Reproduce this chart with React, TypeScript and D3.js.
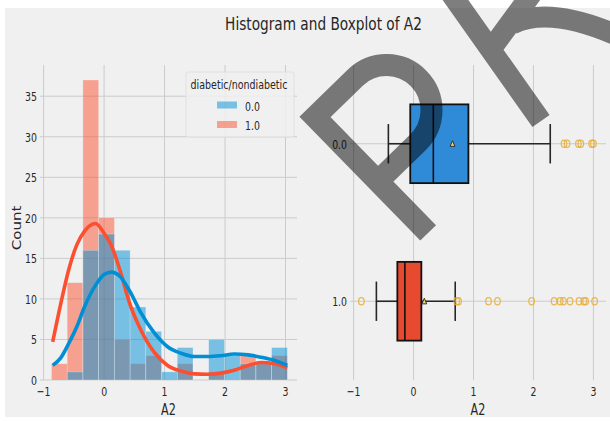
import React from 'react';
import * as d3 from 'd3';

// Histogram bins (shared by both groups) and counts per group
const binEdges = [-0.87, -0.61, -0.35, -0.09, 0.17, 0.43, 0.69, 0.95, 1.21, 1.47, 1.73, 1.99, 2.25, 2.51, 2.77, 3.03];
const countsNon = [0, 1, 16, 18, 16, 9, 6, 1, 4, 0, 5, 3, 2, 2, 4];
const countsDia = [2, 12, 37, 20, 5, 2, 3, 0, 2, 0, 1, 0, 3, 2, 3];

// Density curves, scaled to counts
const kdeX = [-0.85, -0.72, -0.585, -0.45, -0.32, -0.14, 0, 0.12, 0.26, 0.43, 0.6, 0.83, 1.05, 1.27, 1.49, 1.71, 1.93, 2.15, 2.38, 2.6, 2.82, 3.03];
const kdeNon = [1.8, 2.7, 4.5, 6.6, 9.1, 11.7, 13.0, 13.3, 12.8, 10.9, 8.4, 5.8, 4.1, 3.3, 2.9, 2.9, 3.0, 3.2, 3.1, 2.8, 2.4, 1.8];
const kdeDia = [4.7, 9.3, 13.6, 16.7, 18.4, 19.3, 18.1, 16.6, 13.6, 9.3, 6.3, 3.4, 1.8, 1.1, 0.75, 0.7, 0.85, 1.2, 1.8, 2.15, 2.0, 1.5];

// Box plot summaries, one entry per group
const groups = ['0.0', '1.0'];
const whiskerLo = [-0.42, -0.62];
const quart1 = [-0.055, -0.27];
const medians = [0.33, -0.145];
const quart3 = [0.915, 0.13];
const whiskerHi = [2.28, 0.695];
const means = [0.65, 0.18];
const outliersNon = [2.51, 2.56, 2.75, 2.79, 2.97, 3.0];
const outliersDia = [-0.87, 0.72, 0.75, 1.25, 1.4, 1.97, 2.345, 2.445, 2.5, 2.61, 2.76, 2.84, 2.87, 3.02];

const xTicks = [-1, 0, 1, 2, 3];
const yTicks = [0, 5, 10, 15, 20, 25, 30, 35];
const legendLabels = ['0.0', '1.0'];

const BLUE = '#008fd5';
const RED = '#fc4f30';
const BOX_BLUE = '#2f8bd8';
const BOX_RED = '#e84a2f';
const FLIER = '#e5ae38';
const GRID = '#cbcbcb';
const BG = '#f0f0f0';
const INK = '#262626';
const FONT = 'DejaVu Sans';

type TProps = { x: number; y: number; size: number; sx?: number; anchor?: string; rotate?: number; children: React.ReactNode };
function T({ x, y, size, sx = 0.76, anchor = 'middle', rotate, children }: TProps) {
  const tr = `translate(${x},${y}) scale(${sx},1)` + (rotate ? ` rotate(${rotate})` : '');
  return (
    <text transform={tr} fontSize={size} textAnchor={anchor} fill={INK} fontFamily={FONT}>
      {children}
    </text>
  );
}

const fmt = (v: number) => (v < 0 ? '\u2212' + Math.abs(v) : String(v));

export default function App() {
  const top = 65;
  const bottom = 380;
  const xL = d3.scaleLinear().domain([-1.06, 3.19]).range([40, 297]);
  const yL = d3.scaleLinear().domain([0, 38.85]).range([bottom, top]);
  const xR = d3.scaleLinear().domain([-1.06, 3.21]).range([350, 606]);
  const yR = d3.scaleLinear().domain([-0.5, 1.5]).range([top, bottom]);

  const kdeLine = (ys: number[]) =>
    d3
      .line<number>()
      .x((_, i) => xL(kdeX[i]))
      .y((d) => yL(d))
      .curve(d3.curveMonotoneX)(ys) as string;

  const boxFills = [BOX_BLUE, BOX_RED];
  const fliers = [outliersNon, outliersDia];

  return (
    <svg width={610} height={421} style={{ position: 'absolute', left: 0, top: 0 }}>
      <rect x={0} y={0} width={610} height={421} fill="#ffffff" />
      <rect x={5} y={8} width={605} height={409} fill={BG} />

      <T x={323.5} y={29.5} size={18}>Histogram and Boxplot of A2</T>

      {/* Left panel: histogram with density curves */}
      <g>
        {xTicks.map((t) => (
          <line key={'vx' + t} x1={xL(t)} x2={xL(t)} y1={top} y2={bottom} stroke={GRID} strokeWidth={1} />
        ))}
        {yTicks.map((t) => (
          <line key={'hy' + t} x1={40} x2={297} y1={yL(t)} y2={yL(t)} stroke={GRID} strokeWidth={1} />
        ))}
        {countsDia.map((c, i) =>
          c > 0 ? (
            <rect key={'d' + i} x={xL(binEdges[i])} width={xL(binEdges[i + 1]) - xL(binEdges[i])} y={yL(c)} height={yL(0) - yL(c)}
              fill={RED} fillOpacity={0.5} stroke={BG} strokeOpacity={0.5} strokeWidth={0.6} />
          ) : null
        )}
        {countsNon.map((c, i) =>
          c > 0 ? (
            <rect key={'n' + i} x={xL(binEdges[i])} width={xL(binEdges[i + 1]) - xL(binEdges[i])} y={yL(c)} height={yL(0) - yL(c)}
              fill={BLUE} fillOpacity={0.5} stroke={BG} strokeOpacity={0.5} strokeWidth={0.6} />
          ) : null
        )}
        <path d={kdeLine(kdeDia)} fill="none" stroke={RED} strokeWidth={3.6} strokeLinecap="butt" />
        <path d={kdeLine(kdeNon)} fill="none" stroke={BLUE} strokeWidth={3.6} strokeLinecap="butt" />

        {yTicks.map((t) => (
          <T key={'yl' + t} x={37} y={yL(t) + 4.8} size={13} sx={0.72} anchor="end">{fmt(t)}</T>
        ))}
        {xTicks.map((t) => (
          <T key={'xl' + t} x={xL(t)} y={395.5} size={13} sx={0.72}>{fmt(t)}</T>
        ))}
        <T x={168.5} y={415} size={16} sx={0.7}>A2</T>
        <T x={20.5} y={228} size={15} sx={0.8} rotate={-90}>Count</T>

        {/* Legend */}
        <rect x={186} y={72} width={108} height={65} fill={BG} fillOpacity={0.85} stroke="#dcdcdc" strokeWidth={0.8} rx={2} />
        <T x={239} y={88.5} size={12.5}>diabetic/nondiabetic</T>
        {legendLabels.map((lab, i) => (
          <g key={'lg' + lab}>
            <rect x={217} y={101.5 + i * 19.5} width={20} height={7} fill={i === 0 ? BLUE : RED} fillOpacity={0.5} />
            <T x={245} y={110.8 + i * 19.5} size={13} sx={0.72} anchor="start">{lab}</T>
          </g>
        ))}
      </g>

      {/* Right panel: horizontal box plots */}
      <g>
        {xTicks.map((t) => (
          <line key={'rvx' + t} x1={xR(t)} x2={xR(t)} y1={top} y2={bottom} stroke={GRID} strokeWidth={1} />
        ))}
        {groups.map((g, i) => (
          <line key={'rhy' + g} x1={350} x2={606} y1={yR(i)} y2={yR(i)} stroke={GRID} strokeWidth={1} />
        ))}
        {groups.map((g, i) => {
          const cy = yR(i);
          const capT = yR(i - 0.125);
          const capB = yR(i + 0.125);
          const mx = xR(means[i]);
          return (
            <g key={'box' + g}>
              <line x1={xR(whiskerLo[i])} x2={xR(quart1[i])} y1={cy} y2={cy} stroke={INK} strokeWidth={1.6} />
              <line x1={xR(quart3[i])} x2={xR(whiskerHi[i])} y1={cy} y2={cy} stroke={INK} strokeWidth={1.6} />
              <line x1={xR(whiskerLo[i])} x2={xR(whiskerLo[i])} y1={capT} y2={capB} stroke={INK} strokeWidth={1.6} />
              <line x1={xR(whiskerHi[i])} x2={xR(whiskerHi[i])} y1={capT} y2={capB} stroke={INK} strokeWidth={1.6} />
              <rect x={xR(quart1[i])} y={yR(i - 0.25)} width={xR(quart3[i]) - xR(quart1[i])} height={yR(i + 0.25) - yR(i - 0.25)}
                fill={boxFills[i]} stroke="#111" strokeWidth={1.8} />
              <line x1={xR(medians[i])} x2={xR(medians[i])} y1={yR(i - 0.25)} y2={yR(i + 0.25)} stroke="#111" strokeWidth={1.6} />
              <path d={`M${mx - 2.4},${cy + 2.6}L${mx + 2.4},${cy + 2.6}L${mx},${cy - 3}Z`} fill="#f1d46a" stroke="#333" strokeWidth={1} />
              {fliers[i].map((v, j) => (
                <ellipse key={j} cx={xR(v)} cy={cy} rx={2.8} ry={3.6} fill="none" stroke={FLIER} strokeWidth={1.2} strokeOpacity={0.85} />
              ))}
            </g>
          );
        })}
        {groups.map((g, i) => (
          <T key={'ryl' + g} x={347} y={yR(i) + 4.8} size={13} sx={0.72} anchor="end">{g}</T>
        ))}
        {xTicks.map((t) => (
          <T key={'rxl' + t} x={xR(t)} y={395.5} size={13} sx={0.72}>{fmt(t)}</T>
        ))}
        <T x={478} y={415} size={16} sx={0.7}>A2</T>
      </g>

      {/* Watermark lettering */}
      <g opacity={0.5} fill="none" stroke="#000" strokeLinejoin="miter" strokeMiterlimit={4}>
        <path strokeWidth={22} transform="translate(315,117) rotate(-44.3)" d="M0,162 L0,0 L56,0 A45,45 0 0 1 56,90 L0,90" />
        <path strokeWidth={21} d="M541,121 L447,-12 M489,52 L533,-8 M512,24 Q548,6 614,34" />
      </g>
    </svg>
  );
}
